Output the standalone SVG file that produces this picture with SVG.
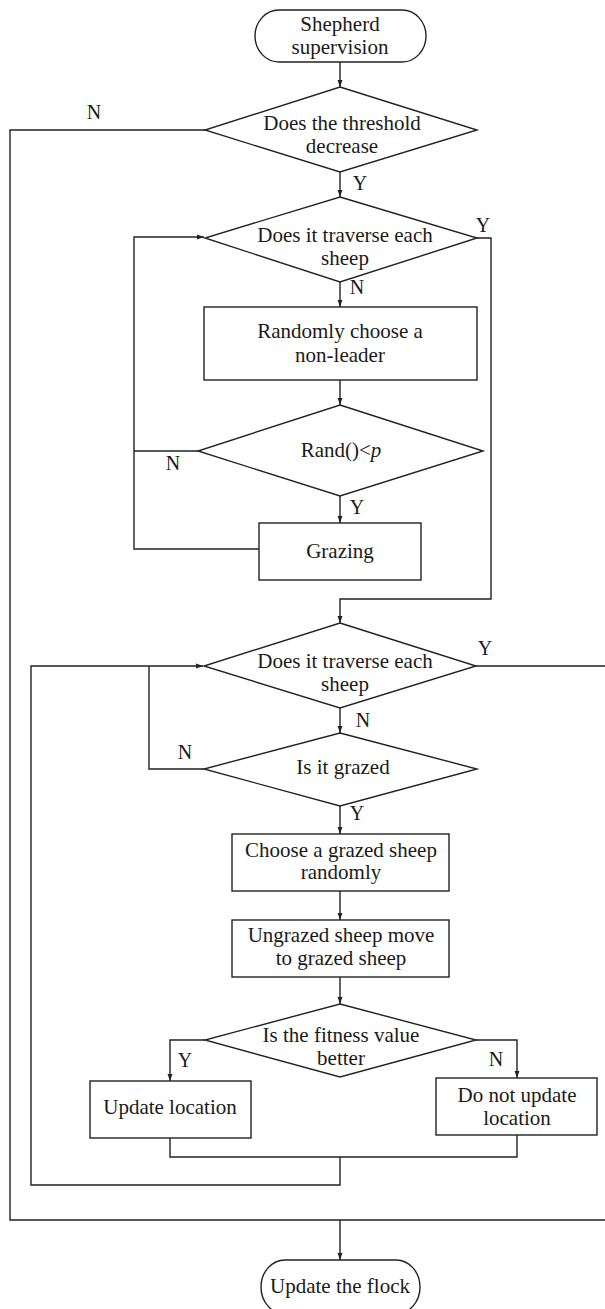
<svg xmlns="http://www.w3.org/2000/svg" width="605" height="1309" viewBox="0 0 605 1309">
<style>
.s{fill:#fff;stroke:#222;stroke-width:1.4}
.c{fill:none;stroke:#222;stroke-width:1.4}
text{font-family:"Liberation Serif","Times New Roman",serif;font-size:21px;fill:#1a1a1a;text-anchor:middle}
.l{font-size:20px}
</style>
<defs>
<marker id="a" viewBox="0 0 10 10" refX="10" refY="5" markerWidth="7" markerHeight="10" markerUnits="userSpaceOnUse" orient="auto">
<path d="M0,1.5 L10,5 L0,8.5 z" fill="#222"/>
</marker>
</defs>
<g id="connectors">
<path class="c" d="M340,62 V87" marker-end="url(#a)"/>
<path class="c" d="M340,172 V197" marker-end="url(#a)"/>
<path class="c" d="M205,130 H10 V1220 H607"/>
<path class="c" d="M476,666 H607 V1220"/>
<path class="c" d="M340,1220 V1260" marker-end="url(#a)"/>
<path class="c" d="M340,282 V307" marker-end="url(#a)"/>
<path class="c" d="M340,380 V405" marker-end="url(#a)"/>
<path class="c" d="M340,496 V523" marker-end="url(#a)"/>
<path class="c" d="M198,451 H134"/>
<path class="c" d="M259,549 H134 V237 H204" marker-end="url(#a)"/>
<path class="c" d="M477,238 H491 V599 H340 V623" marker-end="url(#a)"/>
<path class="c" d="M340,708 V733" marker-end="url(#a)"/>
<path class="c" d="M204,769 H149 V666"/>
<path class="c" d="M340,1157 V1185 H31 V666 H203" marker-end="url(#a)"/>
<path class="c" d="M340,806 V834" marker-end="url(#a)"/>
<path class="c" d="M340,891 V920" marker-end="url(#a)"/>
<path class="c" d="M340,977 V1004" marker-end="url(#a)"/>
<path class="c" d="M205,1040 H170 V1081" marker-end="url(#a)"/>
<path class="c" d="M476,1040 H517 V1078" marker-end="url(#a)"/>
<path class="c" d="M170,1138 V1157 H517 V1135"/>
<text class="l" x="94" y="119">N</text>
<text class="l" x="360" y="190">Y</text>
<text class="l" x="483" y="232">Y</text>
<text class="l" x="357" y="294">N</text>
<text class="l" x="173" y="470">N</text>
<text class="l" x="357" y="514">Y</text>
<text class="l" x="485" y="655">Y</text>
<text class="l" x="363" y="727">N</text>
<text class="l" x="185" y="759">N</text>
<text class="l" x="357" y="820">Y</text>
<text class="l" x="185" y="1067">Y</text>
<text class="l" x="496" y="1066">N</text>
</g>
<g id="start">
<rect class="s" x="255" y="10" width="171" height="52" rx="24" ry="26"/>
<text x="340" y="31">Shepherd</text>
<text x="340" y="54">supervision</text>
</g>
<g id="threshold">
<polygon class="s" points="340,87 477,130 340,172 205,130"/>
<text x="342" y="130">Does the threshold</text>
<text x="342" y="153">decrease</text>
</g>
<g id="traverse1">
<polygon class="s" points="340,197 477,238 340,282 205,238"/>
<text x="345" y="242">Does it traverse each</text>
<text x="345" y="265">sheep</text>
</g>
<g id="choose-nonleader">
<rect class="s" x="204" y="307" width="273" height="73"/>
<text x="340" y="338">Randomly choose a</text>
<text x="340" y="362">non-leader</text>
</g>
<g id="rand">
<polygon class="s" points="340,405 483,451 340,496 198,451"/>
<text x="341" y="457">Rand()&lt;<tspan font-style="italic">p</tspan></text>
</g>
<g id="grazing">
<rect class="s" x="259" y="523" width="162" height="57"/>
<text x="340" y="558">Grazing</text>
</g>
<g id="traverse2">
<polygon class="s" points="340,623 476,666 340,708 204,666"/>
<text x="345" y="668">Does it traverse each</text>
<text x="345" y="691">sheep</text>
</g>
<g id="grazed">
<polygon class="s" points="340,733 477,769 340,806 204,769"/>
<text x="343" y="774">Is it grazed</text>
</g>
<g id="choose-grazed">
<rect class="s" x="232" y="834" width="217" height="57"/>
<text x="341" y="857">Choose a grazed sheep</text>
<text x="341" y="879">randomly</text>
</g>
<g id="move">
<rect class="s" x="232" y="920" width="217" height="57"/>
<text x="341" y="942">Ungrazed sheep move</text>
<text x="341" y="965">to grazed sheep</text>
</g>
<g id="fitness">
<polygon class="s" points="340,1004 476,1040 340,1077 205,1040"/>
<text x="341" y="1042">Is the fitness value</text>
<text x="341" y="1065">better</text>
</g>
<g id="update-loc">
<rect class="s" x="90" y="1081" width="161" height="57"/>
<text x="170" y="1114">Update location</text>
</g>
<g id="no-update">
<rect class="s" x="436" y="1078" width="161" height="57"/>
<text x="517" y="1102">Do not update</text>
<text x="517" y="1125">location</text>
</g>
<g id="end">
<rect class="s" x="261" y="1260" width="159" height="54" rx="24" ry="27"/>
<text x="340" y="1293">Update the flock</text>
</g>
</svg>
